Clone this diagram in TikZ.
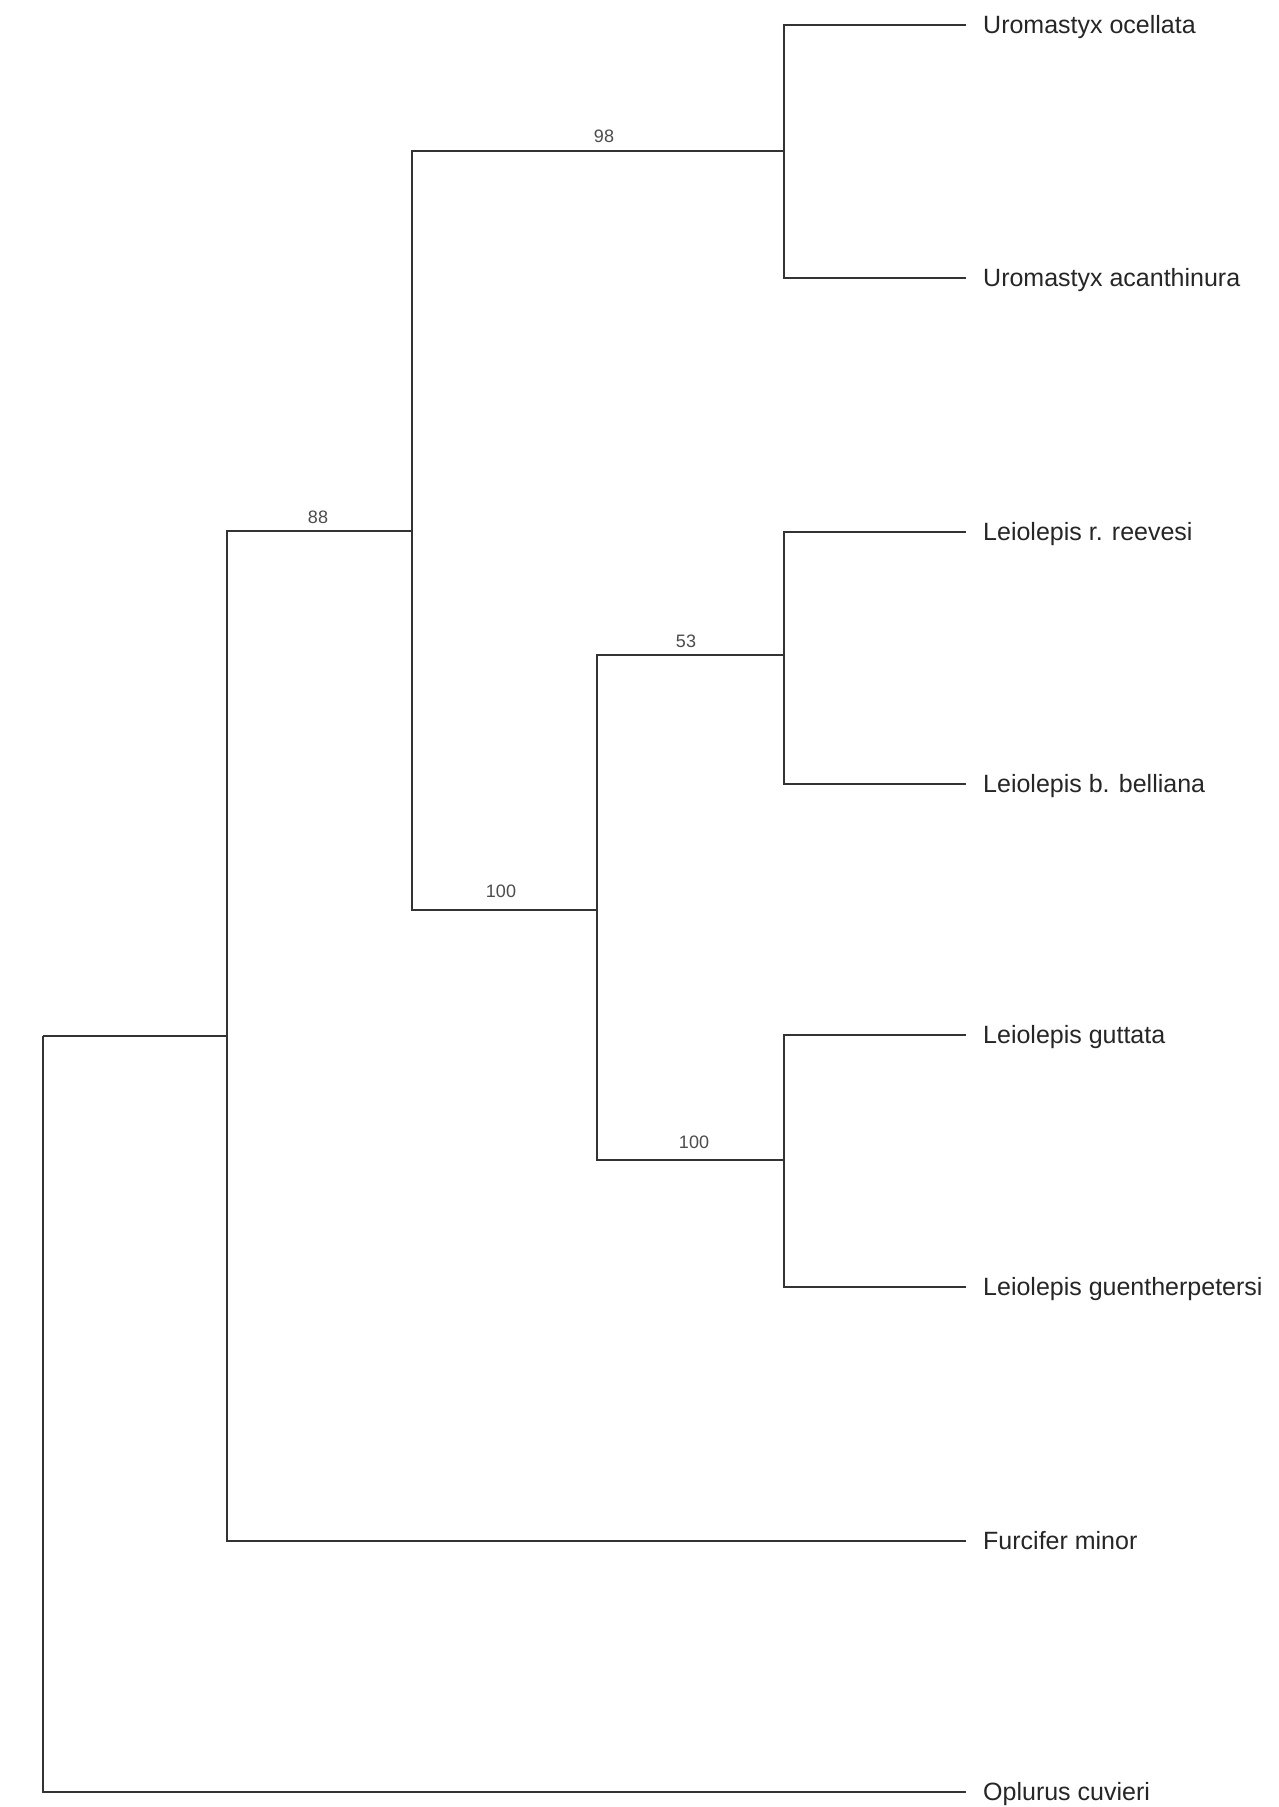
\documentclass[tikz,border=0pt]{standalone}
\usepackage{fontspec}
\setmainfont{Liberation Sans}
\begin{document}
\begin{tikzpicture}[x=1pt,y=-1pt,
  leaf/.style={anchor=west,inner xsep=17pt,inner ysep=0pt,text height=16pt,text depth=0pt,font=\fontsize{25}{28}\selectfont,text=black!85},
  supp/.style={inner sep=0pt,font=\fontsize{18}{20}\selectfont,text=black!70},
  br/.style={line width=1.6pt,draw=black!80}]
\useasboundingbox[fill=white] (0,0) rectangle (1279,1807);
% internal nodes
\coordinate (n1) at (784,151);
\coordinate (n2) at (784,655);
\coordinate (n3) at (784,1160);
\coordinate (n4) at (597,910);
\coordinate (n5) at (412,531);
\coordinate (n6) at (227,1036);
\coordinate (r) at (43,1036);
% leaves
\node[leaf] (t1) at (966,25) {Uromastyx ocellata};
\node[leaf] (t2) at (966,278) {Uromastyx acanthinura};
\node[leaf] (t3) at (966,532) {Leiolepis r. reevesi};
\node[leaf] (t4) at (966,784) {Leiolepis b. belliana};
\node[leaf] (t5) at (966,1035) {Leiolepis guttata};
\node[leaf] (t6) at (966,1287) {Leiolepis guentherpetersi};
\node[leaf] (t7) at (966,1541) {Furcifer minor};
\node[leaf] (t8) at (966,1792) {Oplurus cuvieri};
% branches
\draw[br] (n1) |- (t1.west);
\draw[br] (n1) |- (t2.west);
\draw[br] (n2) |- (t3.west);
\draw[br] (n2) |- (t4.west);
\draw[br] (n3) |- (t5.west);
\draw[br] (n3) |- (t6.west);
\draw[br] (n4) |- (n2);
\draw[br] (n4) |- (n3);
\draw[br] (n5) |- (n1);
\draw[br] (n5) |- (n4);
\draw[br] (n6) |- (n5);
\draw[br] (n6) |- (t7.west);
\draw[br] (r) -- (n6);
\draw[br] (r) |- (t8.west);
% support values
\node[supp] (s1) at (604,136) {98};
\node[supp] (s2) at (318,517) {88};
\node[supp] (s3) at (686,641) {53};
\node[supp] (s4) at (501,891) {100};
\node[supp] (s5) at (694,1142) {100};
\end{tikzpicture}
\end{document}
